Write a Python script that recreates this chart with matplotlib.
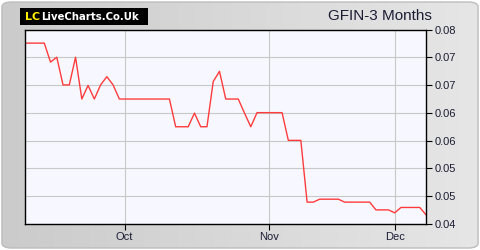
import numpy as np
import matplotlib
matplotlib.use("Agg")
import matplotlib.pyplot as plt
from matplotlib.patches import FancyBboxPatch, Rectangle
from matplotlib.ticker import FormatStrFormatter

# GFIN closing prices, one per trading day
prices = [
    0.0772, 0.0772, 0.0772, 0.0772, 0.0733, 0.0743, 0.0686, 0.0686,
    0.0743, 0.0657, 0.0685, 0.0657, 0.0686, 0.0703, 0.0686, 0.0657,
    0.0657, 0.0657, 0.0657, 0.0657, 0.0657, 0.0657, 0.0657, 0.0657,
    0.0600, 0.0600, 0.0600, 0.0628, 0.0600, 0.0600, 0.0693, 0.0714,
    0.0657, 0.0657, 0.0657, 0.0628, 0.0600, 0.0629, 0.0629, 0.0629,
    0.0629, 0.0629, 0.0572, 0.0572, 0.0572, 0.0445, 0.0445, 0.0451,
    0.0451, 0.0451, 0.0451, 0.0445, 0.0445, 0.0445, 0.0445, 0.0445,
    0.0429, 0.0429, 0.0429, 0.0423, 0.0434, 0.0434, 0.0434, 0.0434,
    0.0419,
]
month_labels = ["Oct", "Nov", "Dec"]
month_pos = [15.84, 38.9, 59.04]
y_min, y_max = 0.04, 0.08
title = "GFIN-3 Months"

text_col = "#1c1c34"
plt.rcParams["font.family"] = ["Liberation Sans", "DejaVu Sans"]

fig = plt.figure(figsize=(4.8, 2.5), dpi=100)
fig.patch.set_facecolor("white")

# grey gradient panel behind everything
bg = fig.add_axes([0, 0, 1, 1], zorder=-10)
grad = np.linspace(0, 1, 256).reshape(1, -1)
cmap = matplotlib.colors.LinearSegmentedColormap.from_list("g", ["#cbcbcb", "#e6e6e6"])
im = bg.imshow(grad, aspect="auto", cmap=cmap, extent=[0, 1, 0, 1])
panel = FancyBboxPatch((0.004, 0.008), 0.992, 0.984, boxstyle="round,pad=0,rounding_size=0.02",
                       transform=bg.transAxes, facecolor="none", edgecolor="#bdbdbd", lw=1)
bg.add_patch(panel)
im.set_clip_path(panel)
bg.set_xlim(0, 1)
bg.set_ylim(0, 1)
bg.axis("off")

ax = fig.add_axes([0.0531, 0.104, 0.8344, 0.778])
ax.set_facecolor("#f7f8ff")
x = np.arange(len(prices))
ax.plot(x, prices, color="#ff3b3b", lw=1.0)

ax.set_xlim(0, len(prices) - 1)
ax.set_ylim(y_min, y_max)
yt = np.linspace(y_min, y_max, 8)
ax.set_yticks(yt)
ax.yaxis.set_major_formatter(FormatStrFormatter("%.2f"))
ax.yaxis.tick_right()
ax.set_xticks(month_pos)
ax.set_xticklabels(month_labels)
ax.grid(True, color="#c8c8c8", lw=0.8)
ax.tick_params(axis="both", direction="out", length=4, width=0.8, colors="black",
               labelcolor=text_col, labelsize=8, pad=2)
for s in ax.spines.values():
    s.set_color("black")
    s.set_linewidth(1.0)

# logo: one black box with yellow "LC" and white site name
fig.add_artist(Rectangle((20 / 480, 1 - 25 / 250), 128 / 480, 17 / 250,
                         transform=fig.transFigure, facecolor="black", edgecolor="none"))
fig.text(25 / 480, 1 - 16.5 / 250, "LC", fontsize=8, fontweight="bold", color="#ffee00",
         va="center", family="DejaVu Sans")
fig.text(41 / 480, 1 - 16.5 / 250, "LiveCharts.Co.Uk", fontsize=7.3, fontweight="bold",
         color="white", va="center", family="DejaVu Sans")

fig.text(0.90, 0.935, title, fontsize=11, color=text_col, ha="right", va="center")

fig.savefig("out.png", dpi=100)
